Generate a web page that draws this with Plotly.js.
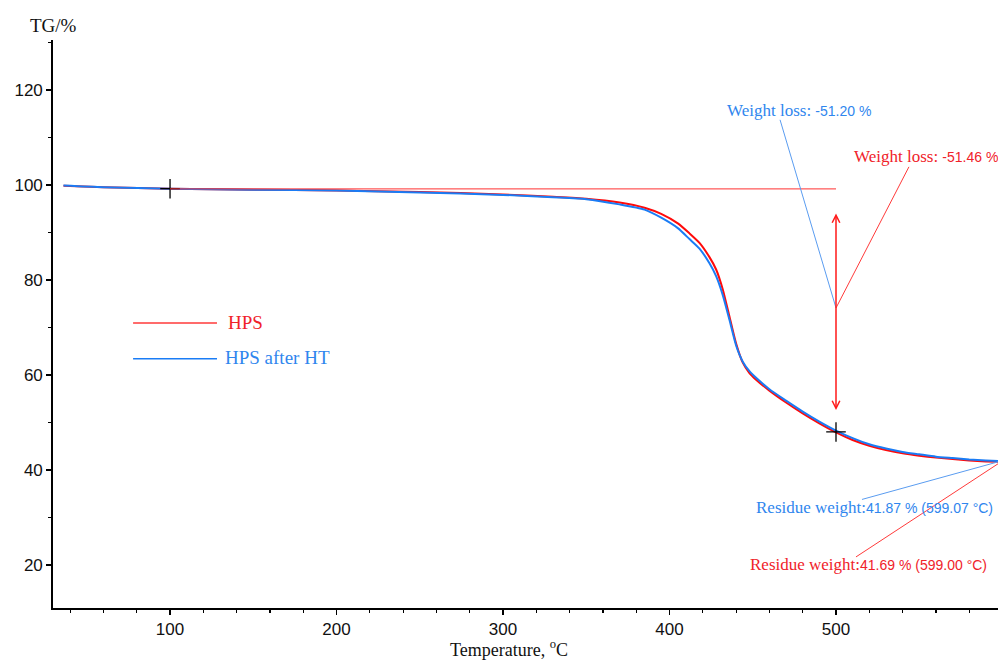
<!DOCTYPE html>
<html>
<head>
<meta charset="utf-8">
<script src="https://cdn.plot.ly/plotly-3.0.1.min.js"></script>
<style>html,body{margin:0;padding:0;background:#fff;}#chart{width:998px;height:661px;}</style>
</head>
<body>
<div id="chart"></div>
<script>
// Temperature (°C) and TG (%) for each sample
const hpsTemp = [36, 60, 100, 150, 200, 250, 300, 330, 350, 370, 385, 395, 405, 412, 418, 424, 428, 432, 436, 440, 444, 448, 452, 460, 470, 480, 490, 500, 510, 520, 530, 540, 550, 560, 570, 580, 590, 599];
const hpsTG   = [99.8, 99.5, 99.2, 99.0, 98.8, 98.5, 98.0, 97.5, 97.1, 96.3, 95.2, 93.9, 91.9, 89.8, 87.8, 84.8, 82.2, 78.0, 72.3, 66.6, 62.6, 60.4, 59.0, 56.7, 54.2, 51.9, 49.8, 47.9, 46.3, 45.1, 44.2, 43.5, 43.0, 42.6, 42.3, 42.0, 41.8, 41.69];
const htTemp  = [36, 60, 100, 150, 200, 250, 300, 330, 350, 370, 385, 395, 405, 412, 418, 424, 428, 432, 436, 440, 444, 448, 452, 460, 470, 480, 490, 500, 510, 520, 530, 540, 550, 560, 570, 580, 590, 599];
const htTG    = [99.85, 99.5, 99.2, 99.0, 98.8, 98.4, 97.9, 97.4, 97.0, 95.9, 94.8, 93.1, 90.9, 88.6, 86.6, 83.5, 80.8, 76.8, 71.6, 66.2, 62.8, 60.8, 59.4, 57.0, 54.6, 52.3, 50.2, 48.3, 46.7, 45.4, 44.5, 43.8, 43.3, 42.8, 42.5, 42.2, 42.0, 41.87];
// Evaluation markers (onset / step end)
const markTemp = [100, 500];
const markTG   = [99.2, 48.0];
// Step evaluation
const stepStart = 99.16, stepEnd = 52.6, stepTop = 94.3;
const seriesNames = ["HPS", "HPS after HT"];
const lossLabels = ["-51.46 %", "-51.20 %"];
const residueLabels = ["41.69 % (599.00 °C)", "41.87 % (599.07 °C)"];
const xTicks = [100, 200, 300, 400, 500];
const yTicks = [20, 40, 60, 80, 100, 120];

const RED = '#ff0a0a', BLUE = '#1a7cf5';
const REDT = '#f0222a', BLUET = '#2f86ee';
const SERIF = "'Liberation Serif', 'Times New Roman', serif";
const SANS = "'Liberation Sans', Arial, sans-serif";
const num = (s) => '<span style="font-family:Liberation Sans;font-size:14px">' + s + '</span>';

const traces = [
  {x: hpsTemp, y: hpsTG, mode: 'lines', name: seriesNames[0], line: {color: RED, width: 2, shape: 'spline', smoothing: 0.6}, showlegend: false},
  {x: htTemp, y: htTG, mode: 'lines', name: seriesNames[1], line: {color: BLUE, width: 2, shape: 'spline', smoothing: 0.6}, showlegend: false},
  {x: markTemp, y: markTG, mode: 'markers', marker: {symbol: 'cross-thin', size: 14, line: {width: 1.3, color: '#000'}}, showlegend: false, hoverinfo: 'skip'}
];

const shapes = [
  {type: 'line', xref: 'x', yref: 'y', x0: markTemp[0], x1: markTemp[1], y0: stepStart, y1: stepStart, line: {color: '#ff3030', width: 1}},
  {type: 'line', xref: 'x', yref: 'y', x0: 466.4, y0: 113.7, x1: 500, y1: 74.1, line: {color: '#5a9cf0', width: 1}},
  {type: 'line', xref: 'x', yref: 'y', x0: 543.8, y0: 103.8, x1: 500, y1: 74.1, line: {color: '#ff3a3a', width: 1}},
  {type: 'line', xref: 'x', yref: 'y', x0: 515.6, y0: 33.8, x1: 599, y1: htTG[htTG.length-1], line: {color: '#5a9cf0', width: 1}},
  {type: 'line', xref: 'x', yref: 'y', x0: 512, y0: 21.7, x1: 599, y1: hpsTG[hpsTG.length-1], line: {color: '#ff3a3a', width: 1}},
  {type: 'line', xref: 'x', yref: 'y', x0: 77.8, x1: 128.2, y0: 70.95, y1: 70.95, line: {color: '#ff3a3a', width: 1.5}},
  {type: 'line', xref: 'x', yref: 'y', x0: 77.8, x1: 128.2, y0: 63.4, y1: 63.4, line: {color: '#1a7cf5', width: 1.5}}
];

const annotations = [
  {x: 500, y: stepEnd, ax: 500, ay: stepTop, xref: 'x', yref: 'y', axref: 'x', ayref: 'y', text: '', showarrow: true,
   arrowside: 'end+start', arrowhead: 5, arrowsize: 1, arrowwidth: 1.5, arrowcolor: '#ff1a1a', standoff: 0, startstandoff: 0},
  {x: 433.3, y: 115.6, xref: 'x', yref: 'y', xanchor: 'left', yanchor: 'middle', showarrow: false,
   text: 'Weight loss: ' + num(lossLabels[1]), font: {family: SERIF, size: 17, color: BLUET}},
  {x: 509.4, y: 105.9, xref: 'x', yref: 'y', xanchor: 'left', yanchor: 'middle', showarrow: false,
   text: 'Weight loss: ' + num(lossLabels[0]), font: {family: SERIF, size: 17, color: REDT}},
  {x: 450.6, y: 32.2, xref: 'x', yref: 'y', xanchor: 'left', yanchor: 'middle', showarrow: false,
   text: 'Residue weight:' + num(residueLabels[1]), font: {family: SERIF, size: 17, color: BLUET}},
  {x: 447.0, y: 20.2, xref: 'x', yref: 'y', xanchor: 'left', yanchor: 'middle', showarrow: false,
   text: 'Residue weight:' + num(residueLabels[0]), font: {family: SERIF, size: 17, color: REDT}},
  {x: 133.6, y: 71.1, xref: 'x', yref: 'y', xanchor: 'left', yanchor: 'middle', showarrow: false,
   text: seriesNames[0], font: {family: SERIF, size: 19, color: REDT}},
  {x: 131.8, y: 63.6, xref: 'x', yref: 'y', xanchor: 'left', yanchor: 'middle', showarrow: false,
   text: seriesNames[1], font: {family: SERIF, size: 19, color: BLUET}},
  {x: 0.4825, y: -0.0715, xref: 'paper', yref: 'paper', xanchor: 'center', yanchor: 'middle', showarrow: false,
   text: 'Temperature, <sup>o</sup>C', font: {family: SERIF, size: 18, color: '#111'}},
  {x: 0.001, y: 1.0264, xref: 'paper', yref: 'paper', xanchor: 'center', yanchor: 'middle', showarrow: false,
   text: 'TG/%', font: {family: SERIF, size: 19, color: '#111'}}
];

const layout = {
  width: 998, height: 661,
  margin: {l: 53, r: 0, t: 40, b: 53},
  paper_bgcolor: '#fff', plot_bgcolor: '#fff',
  showlegend: false,
  xaxis: {
    range: [29.7, 597.3], tickvals: xTicks, ticktext: xTicks.map(String),
    showgrid: false, zeroline: false, showline: true, linecolor: '#000', linewidth: 1.8,
    ticks: 'outside', ticklen: 5, tickwidth: 1.3, tickcolor: '#000',
    minor: {dtick: 20, tick0: 0, ticks: 'outside', ticklen: 3, tickwidth: 1.2, tickcolor: '#000', showgrid: false},
    tickfont: {family: SANS, size: 17, color: '#111'}
  },
  yaxis: {
    range: [10.95, 130.5], tickvals: yTicks, ticktext: yTicks.map(String),
    showgrid: false, zeroline: false, showline: true, linecolor: '#000', linewidth: 1.8,
    ticks: 'outside', ticklen: 5, tickwidth: 1.3, tickcolor: '#000',
    minor: {dtick: 10, tick0: 0, ticks: 'outside', ticklen: 3, tickwidth: 1.2, tickcolor: '#000', showgrid: false},
    tickfont: {family: SANS, size: 17, color: '#111'}
  },
  shapes: shapes,
  annotations: annotations
};

Plotly.newPlot('chart', traces, layout, {staticPlot: true, displayModeBar: false});
</script>
</body>
</html>
